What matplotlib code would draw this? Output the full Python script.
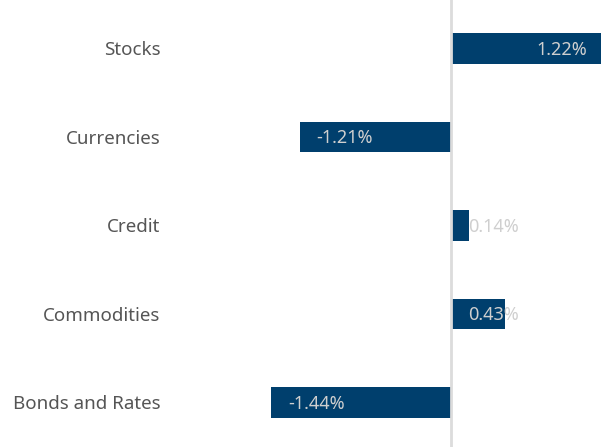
import matplotlib.pyplot as plt

categories = ["Stocks", "Currencies", "Credit", "Commodities", "Bonds and Rates"]
values = [1.22, -1.21, 0.14, 0.43, -1.44]
labels = ["1.22%", "-1.21%", "0.14%", "0.43%", "-1.44%"]

BAR = "#003f6d"
TEXT = "#555555"
VALTEXT = "#cfcfcf"

plt.rcParams["font.family"] = ["Noto Sans", "DejaVu Sans"]

fig = plt.figure(figsize=(6.01, 4.47), dpi=100)
ax = fig.add_axes([170 / 601, 0, 431 / 601, 1])

ypos = list(range(len(categories) - 1, -1, -1))
ax.barh(ypos, values, height=0.35, color=BAR, zorder=2)
ax.axvline(0, color="#dcdcdc", lw=2, zorder=3)

ax.set_xlim(-2.25, 1.2)
ax.set_ylim(-0.503, 4.548)

pad = 12  # points
for y, v, lab in zip(ypos, values, labels):
    if v < 0:
        x, off, ha = v, pad, "left"
    elif v > 0.6:
        # long bar: label sits inside the bar end
        x, off, ha = v, -pad, "right"
    else:
        x, off, ha = 0, pad, "left"
    ax.annotate(lab, (x, y), xytext=(off, -1), textcoords="offset points",
                ha=ha, va="center", color=VALTEXT, fontsize=13,
                annotation_clip=False, zorder=4)

ax.set_yticks(ypos)
ax.set_yticklabels(categories, color=TEXT, fontsize=13.5)
ax.tick_params(axis="y", length=0, pad=7)
ax.set_xticks([])
for s in ax.spines.values():
    s.set_visible(False)

fig.savefig("out.png", dpi=100)
